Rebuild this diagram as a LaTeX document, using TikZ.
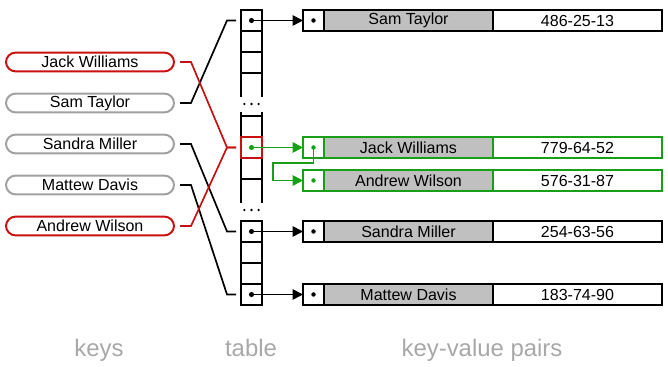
\documentclass[tikz,border=0pt]{standalone}
\usepackage{fontspec}
\setmainfont{Liberation Sans}
\usetikzlibrary{arrows.meta,calc}
\definecolor{keyline}{RGB}{160,160,160}
\definecolor{hitred}{RGB}{200,16,16}
\definecolor{chaingreen}{RGB}{24,158,24}
\definecolor{keyfill}{RGB}{192,192,192}
\definecolor{labelgray}{RGB}{168,168,168}
\newcommand{\kvpair}[5]{%
  \node[ptrcell, draw=#5] (#1p) at (7.8375,#2) {};
  \node[keycell, draw=#5, anchor=west] (#1k) at (#1p.east) {#3};
  \node[valcell, draw=#5, anchor=west] (#1v) at (#1k.east) {#4};
  \fill[#5] (#1p) circle (1.6pt);}

\begin{document}
\begin{tikzpicture}[
  font=\fontsize{11.4}{13}\selectfont,
  cell/.style={draw, line width=1.4pt, minimum width=0.525cm, minimum height=0.525cm, inner sep=0pt, outer sep=0pt},
  ptrcell/.style={cell},
  keycell/.style={cell, fill=keyfill, minimum width=4.225cm},
  valcell/.style={cell, fill=white, minimum width=4.225cm},
  keypill/.style={draw=keyline, line width=1.4pt, rounded corners=0.24cm, minimum width=4.2cm, minimum height=0.47cm, inner sep=0pt, outer sep=0pt},
  klink/.style={line width=1.2pt, shorten <=0.15cm, shorten >=0.125cm},
  ptr/.style={line width=1.2pt, -{Triangle[length=2.6mm,width=2.6mm]}},
  caption/.style={text=labelgray, font=\fontsize{17}{20}\selectfont, anchor=base},
]
\useasboundingbox (0,0) rectangle (16.7,9.175);

% ===== Keys =====
\node[keypill, draw=hitred] (kjack)    at (2.25,7.625) {Jack Williams};
\node[keypill]              (ksam)     at (2.25,6.6)   {Sam Taylor};
\node[keypill]              (ksandra)  at (2.25,5.575) {Sandra Miller};
\node[keypill]              (kmattew)  at (2.25,4.55)  {Mattew Davis};
\node[keypill, draw=hitred] (kandrew)  at (2.25,3.525) {Andrew Wilson};

% ===== Table (three visible runs of buckets) =====
\foreach \n/\y in {a1/8.6625,a2/8.1375,a3/7.6125,b1/6.0125,b2/5.4875,b3/4.9625,c1/3.3875,c2/2.8625,c3/2.3375,c4/1.8125}
  {\node[cell] (\n) at (6.2875,\y) {};}
\draw[hitred, line width=1.4pt] (b2.south west) rectangle (b2.north east);
% open ends of the runs
\draw[line width=1.4pt] (a3.south west) -- ++(0,-0.6) (a3.south east) -- ++(0,-0.6);
\draw[line width=1.4pt] (b1.north west) -- ++(0,0.1) (b1.north east) -- ++(0,0.1);
\draw[line width=1.4pt] (b3.south west) -- ++(0,-0.6) (b3.south east) -- ++(0,-0.6);
% elided rows
\foreach \dx in {-0.18,0,0.18}{
  \fill ($(a3.south)+(\dx,-0.775)$) circle (0.9pt);
  \fill ($(b3.south)+(\dx,-0.775)$) circle (0.9pt);}

% ===== Key-value pairs =====
\kvpair{s}{8.6625}{Sam Taylor}{486-25-13}{black}
\kvpair{j}{5.4875}{Jack Williams}{779-64-52}{chaingreen}
\kvpair{a}{4.6625}{Andrew Wilson}{576-31-87}{chaingreen}
\kvpair{d}{3.3875}{Sandra Miller}{254-63-56}{black}
\kvpair{m}{1.8125}{Mattew Davis}{183-74-90}{black}

% ===== Hash links (key -> bucket) =====
\draw[klink] (ksam.east) -- ++(0.425,0) -- ($(a1.west)+(-0.35,0)$) -- (a1.west);
\draw[klink, hitred] (kjack.east) -- ++(0.425,0) -- ($(b2.west)+(-0.35,0)$) -- (b2.west);
\draw[klink] (ksandra.east) -- ++(0.425,0) -- ($(c1.west)+(-0.35,0)$) -- (c1.west);
\draw[klink] (kmattew.east) -- ++(0.425,0) -- ($(c4.west)+(-0.35,0)$) -- (c4.west);
\draw[klink, hitred] (kandrew.east) -- ++(0.425,0) -- ($(b2.west)+(-0.35,0)$) -- (b2.west);

% ===== Bucket pointers =====
\foreach \c/\r in {a1/s,c1/d,c4/m}{
  \fill (\c) circle (1.8pt);
  \draw[ptr] (\c.center) -- (\r p.west);}
\fill[chaingreen] (b2) circle (1.8pt);
\draw[ptr, chaingreen] (b2.center) -- (jp.west);
% --- collision chain: Jack Williams -> Andrew Wilson ---
\draw[ptr, chaingreen] (jp.center) -- ++(0,-0.3875) -| ($(ap.west)+(-0.75,0)$) -- (ap.west);

% ===== Captions =====
\node[caption] (lkeys)  at (2.475,0.25) {keys};
\node[caption] (ltable) at (6.275,0.25) {table};
\node[caption] (lpairs) at (12.05,0.25) {key-value pairs};
\end{tikzpicture}
\end{document}
